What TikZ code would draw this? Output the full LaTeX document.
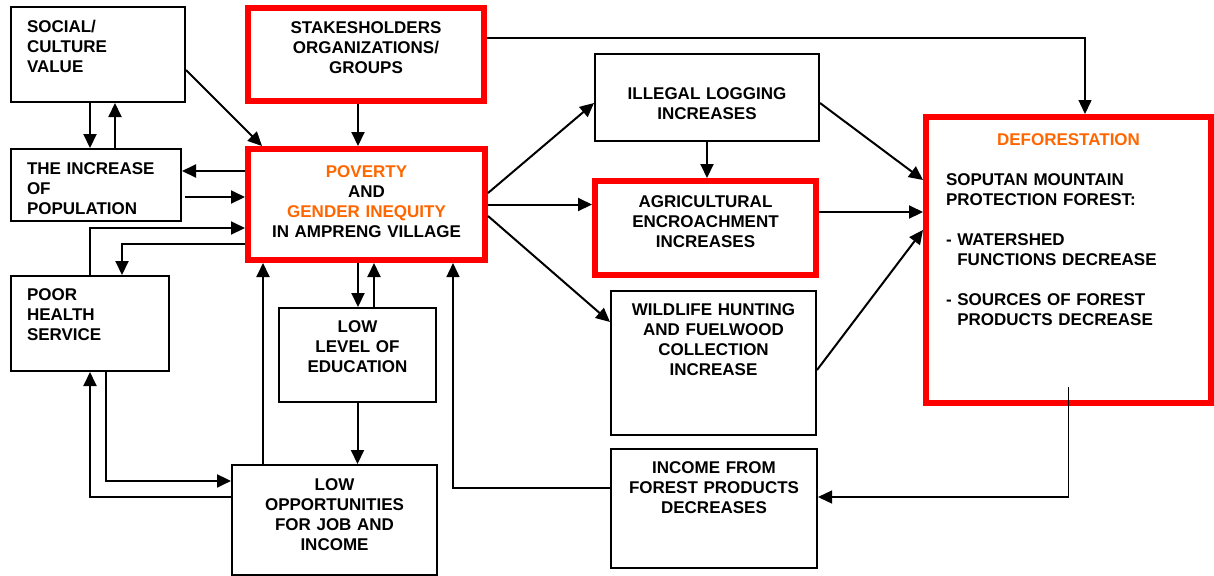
\documentclass[tikz,border=0pt]{standalone}
\usepackage{fontspec}
\setmainfont{Liberation Sans}
\usepackage{xcolor}
\usepackage{tikz}
\usetikzlibrary{arrows.meta}
\usetikzlibrary{positioning}

\definecolor{ora}{RGB}{255,102,0}
\definecolor{redline}{RGB}{255,0,0}
\tikzset{sz/.style n args={3}{text width=#1, text height=#2, text depth=#3}}

\begin{document}
\begin{tikzpicture}[x=0.5pt, y=-0.5pt]
\useasboundingbox (0,0) rectangle (1214,575);

\begin{scope}[every node/.style={draw, line width=1pt, anchor=north west, inner ysep=0pt, inner xsep=8pt,
              align=left, font=\fontsize{8.5}{10}\selectfont\bfseries}]
    \node[sz={71pt}{12.5pt}{35pt}] (soc) at (10,6) {SOCIAL/\\CULTURE\\VALUE};
    \node[sz={69pt}{12.5pt}{23.5pt}] (inc) at (10,148) {THE INCREASE\\OF\\POPULATION};
    \node[sz={63pt}{12pt}{35.5pt}] (poor) at (10,275) {POOR\\HEALTH\\SERVICE};
\end{scope}

\begin{scope}[every node/.style={draw, line width=1pt, anchor=north west, inner sep=0pt,
              align=center, font=\fontsize{8.5}{10}\selectfont\bfseries}]
    \node[sz={78.5pt}{12pt}{35pt}] (edu) at (278,307) {LOW\\LEVEL OF\\EDUCATION};
    \node[sz={102.5pt}{12.5pt}{42.25pt}] (opp) at (231,464) {LOW\\OPPORTUNITIES\\FOR JOB AND\\INCOME};
    \node[sz={112pt}{22.5pt}{21pt}] (ill) at (594,53) {ILLEGAL LOGGING\\INCREASES};
    \node[sz={102.5pt}{12pt}{60pt}] (wild) at (610,290) {WILDLIFE HUNTING\\AND FUELWOOD\\COLLECTION\\INCREASE};
    \node[sz={103pt}{12pt}{47.5pt}] (income) at (610,448) {INCOME FROM\\FOREST PRODUCTS\\DECREASES};
\end{scope}

\begin{scope}[every node/.style={draw=redline, line width=3.2pt, anchor=north west, inner sep=0pt,
              align=center, font=\fontsize{8.5}{10}\selectfont\bfseries}]
    \node[sz={117.8pt}{12.65pt}{33.65pt}] (stake) at (245,5) {STAKESHOLDERS\\ORGANIZATIONS/\\GROUPS};
    \node[sz={118.3pt}{13.9pt}{41.4pt}] (pov) at (245,146) {\textcolor{ora}{POVERTY}\\AND\\\textcolor{ora}{GENDER INEQUITY}\\IN AMPRENG VILLAGE};
    \node[sz={110.3pt}{12.9pt}{33.9pt}] (agri) at (592,178) {AGRICULTURAL\\ENCROACHMENT\\INCREASES};
    \node[sz={122.5pt}{13.9pt}{128.9pt}, inner xsep=9.9pt, align=left] (def) at (923,114)
        {\makebox[122.5pt]{\textcolor{ora}{DEFORESTATION}}\\[10pt]
         SOPUTAN MOUNTAIN\\PROTECTION FOREST:\\[10pt]
         - WATERSHED\\\hphantom{- }FUNCTIONS DECREASE\\[10pt]
         - SOURCES OF FOREST\\\hphantom{- }PRODUCTS DECREASE};
\end{scope}

\begin{scope}[>={Triangle[length=7pt, width=6.5pt]}, line width=1pt,
              every edge/.style={draw=black}]
    \path [->] ([yshift=-7.75pt]soc.east) edge ([xshift=8.5pt]pov.north west);
    \path [->] ([xshift=-4pt]soc.south) edge ([xshift=-4pt]soc.south |- inc.north);
    \path [->] ([xshift=9.5pt]inc.north) edge ([xshift=9.5pt]inc.north |- soc.south);
    \path [->] ([xshift=-4pt]stake.south) edge ([xshift=-4pt]stake.south |- pov.north);
    \path [->] ([yshift=16.75pt]pov.west) edge ([yshift=16.75pt]pov.west -| inc.east);
    \path [->] ([xshift=1.5pt, yshift=-6pt]inc.east) edge ([yshift=-6pt]inc.east -| pov.west);
    \draw [->] (poor.north) |- ([yshift=-11.75pt]pov.west);
    \draw [->] ([yshift=-19.75pt]pov.west) -| ([xshift=16pt]poor.north);
    \draw [->] ([xshift=8pt]poor.south) |- ([yshift=19.4pt]opp.west);
    \draw [->] ([yshift=11.4pt]opp.west) -| (poor.south);
\end{scope}

\begin{scope}[>={Triangle[length=7pt, width=6.5pt]}, line width=1pt,
              every edge/.style={draw=black}]
    \path [->] ([xshift=-4.25pt]pov.south) edge ([xshift=-4.25pt]pov.south |- edu.north);
    \path [->] ([xshift=8.25pt]edu.north) edge ([xshift=8.25pt]edu.north |- pov.south);
    \path [->] (edu.south) edge (edu.south |- opp.north);
    \path [->] ([xshift=-35.75pt]opp.north) edge ([xshift=-35.75pt]opp.north |- pov.south);
\end{scope}

\begin{scope}[>={Triangle[length=7pt, width=6.5pt]}, line width=1pt,
              every edge/.style={draw=black}]
    \path [->] ([yshift=5.75pt]pov.east) edge ([yshift=-2.75pt]ill.west);
    \path [->] (pov.east) edge (pov.east -| agri.west);
    \path [->] ([yshift=-5.75pt]pov.east) edge ([yshift=20.5pt]wild.west);
    \path [->] (ill.south) edge (ill.south |- agri.north);
    \path [->] ([yshift=-2.75pt]ill.east) edge ([yshift=40pt]def.west);
    \path [->] ([yshift=8pt]agri.east) edge ([yshift=8pt]agri.east -| def.west);
    \path [->] ([yshift=-3.5pt]wild.east) edge ([yshift=15pt]def.west);
\end{scope}

\begin{scope}[>={Triangle[length=7pt, width=6.5pt]}, line width=0.7pt]
    \draw [->] ([yshift=8.25pt]stake.east) -| ([xshift=8.25pt]def.north);
    \draw [->] ([yshift=9.5pt]def.south) |- ([yshift=5.75pt]income.east);
    \draw [->] ([yshift=10.25pt]income.west) -| ([xshift=43.25pt]pov.south);
\end{scope}

\end{tikzpicture}
\end{document}
